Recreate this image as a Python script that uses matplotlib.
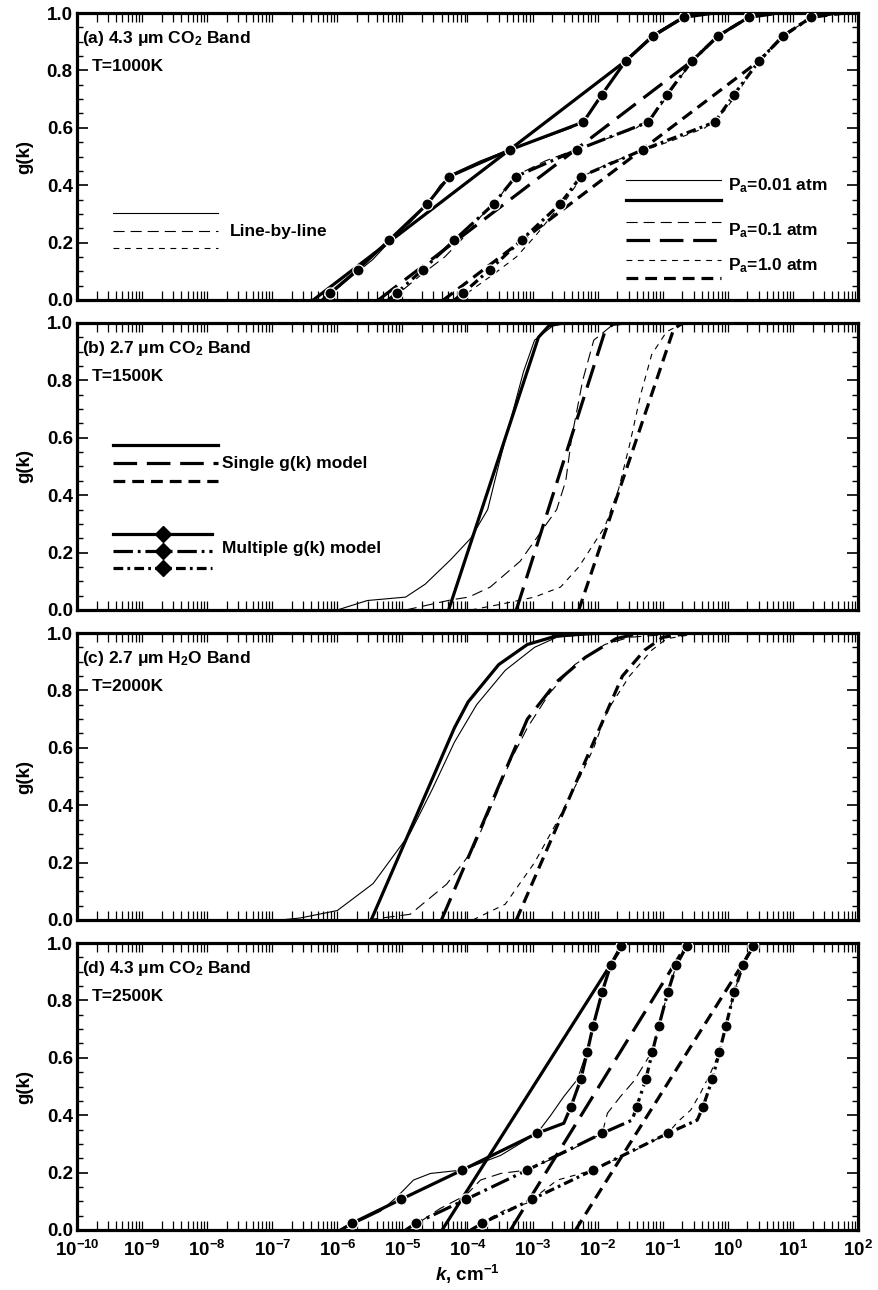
import numpy as np
import matplotlib
matplotlib.use("Agg")
import matplotlib.pyplot as plt
from matplotlib.ticker import FixedLocator, MultipleLocator, FuncFormatter, NullFormatter

plt.rcParams['font.family'] = ['Liberation Sans', 'DejaVu Sans']
plt.rcParams['font.weight'] = 'bold'
plt.rcParams['mathtext.fontset'] = 'custom'
plt.rcParams['mathtext.rm'] = 'Liberation Sans:bold'
plt.rcParams['mathtext.it'] = 'Liberation Sans:italic:bold'
plt.rcParams['mathtext.bf'] = 'Liberation Sans:bold'
plt.rcParams['mathtext.default'] = 'rm'
plt.rcParams['lines.scale_dashes'] = False

# ---------------- data (log10 k, g) ----------------
X_DECADES = list(range(-10, 3))
G_QUAD = [0.024, 0.105, 0.107, 0.209, 0.334, 0.337, 0.43, 0.523, 0.525, 0.62, 0.711, 0.714, 0.83, 0.833, 0.92, 0.923, 0.985, 0.99]

# Panel (a) 4.3 um CO2, 1000 K
A_LBL1_LOGK = [-6.23, -6.06, -5.77, -5.46, -5.15, -4.88, -4.60, -4.42, -4.23, -3.80, -3.34, -2.80, -2.40, -2.14, -1.92, -1.72, -1.52, -1.15, -0.72, -0.30]
A_LBL1_G = [0.0, 0.028, 0.084, 0.14, 0.215, 0.27, 0.338, 0.40, 0.44, 0.485, 0.525, 0.567, 0.60, 0.645, 0.72, 0.785, 0.845, 0.925, 0.983, 1.0]
A_LBL2_LOGK = [-5.20, -5.03, -4.70, -4.35, -4.05, -3.80, -3.55, -3.38, -3.20, -2.80, -2.33, -1.80, -1.40, -1.12, -0.90, -0.70, -0.50, -0.14, 0.28, 0.70]
A_LBL2_G = [0.0, 0.028, 0.09, 0.15, 0.22, 0.29, 0.345, 0.40, 0.44, 0.485, 0.525, 0.567, 0.60, 0.65, 0.72, 0.785, 0.845, 0.925, 0.983, 1.0]
A_LBL3_LOGK = [-4.15, -3.98, -3.60, -3.25, -2.95, -2.72, -2.50, -2.30, -2.15, -1.80, -1.30, -0.80, -0.35, -0.05, 0.15, 0.32, 0.52, 0.86, 1.30, 1.80]
A_LBL3_G = [0.0, 0.028, 0.09, 0.15, 0.225, 0.29, 0.345, 0.41, 0.44, 0.48, 0.52, 0.56, 0.60, 0.66, 0.72, 0.785, 0.845, 0.925, 0.983, 1.0]

A_SGL1_LOGK = [-6.37, -1.57, -1.15, -0.68, -0.20]
A_SGL2_LOGK = [-5.37, -0.55, -0.15, 0.32, 0.80]
A_SGL3_LOGK = [-4.37, 0.48, 0.85, 1.28, 1.80]
A_SGL_G = [0.0, 0.833, 0.92, 0.985, 1.0]

A_MLT1_LOGK = [-6.23, -6.11, -5.69, -5.20, -4.62, -4.28, -3.35, -2.22, -1.94, -1.57, -1.15, -0.68, -0.40]
A_MLT2_LOGK = [-5.22, -5.09, -4.69, -4.20, -3.60, -3.26, -2.32, -1.22, -0.94, -0.55, -0.15, 0.32, 0.60]
A_MLT3_LOGK = [-4.20, -4.07, -3.66, -3.17, -2.58, -2.26, -1.31, -0.20, 0.09, 0.48, 0.85, 1.28, 1.60]
A_MLT_G = [0.0, 0.024, 0.105, 0.209, 0.334, 0.43, 0.523, 0.62, 0.714, 0.833, 0.92, 0.985, 1.0]

# Panel (b) 2.7 um CO2, 1500 K
B_LBL1_LOGK = [-6.00, -5.54, -4.95, -4.65, -4.26, -3.95, -3.69, -3.51, -3.34, -3.14, -2.97, -2.69, -2.42]
B_LBL1_G = [0.0, 0.033, 0.045, 0.09, 0.175, 0.25, 0.35, 0.515, 0.66, 0.83, 0.94, 0.99, 1.0]
B_LBL2_LOGK = [-4.95, -4.26, -3.98, -3.65, -3.19, -2.91, -2.63, -2.49, -2.40, -2.23, -2.06, -1.79, -1.49]
B_LBL2_G = [0.0, 0.035, 0.045, 0.08, 0.17, 0.26, 0.35, 0.45, 0.60, 0.80, 0.94, 0.99, 1.0]
B_LBL3_LOGK = [-3.95, -3.49, -2.97, -2.57, -2.29, -1.89, -1.68, -1.51, -1.34, -1.17, -0.94, -0.72, -0.42]
B_LBL3_G = [0.0, 0.02, 0.045, 0.08, 0.15, 0.29, 0.42, 0.575, 0.75, 0.89, 0.97, 0.995, 1.0]
B_SGL1_LOGK = [-4.29, -2.91, -2.75, -2.57]
B_SGL1_G = [0.0, 0.95, 0.99, 1.0]
B_SGL2_LOGK = [-3.25, -1.89, -1.77, -1.62]
B_SGL2_G = [0.0, 0.97, 0.995, 1.0]
B_SGL3_LOGK = [-2.29, -0.83, -0.69]
B_SGL3_G = [0.0, 0.98, 1.0]

# Panel (c) 2.7 um H2O, 2000 K
C_LBL1_LOGK = [-6.88, -6.57, -6.00, -5.45, -4.88, -4.54, -4.20, -3.86, -3.42, -2.97, -2.63, -1.95]
C_LBL1_G = [0.0, 0.007, 0.033, 0.127, 0.303, 0.456, 0.62, 0.75, 0.87, 0.95, 0.985, 1.0]
C_LBL2_LOGK = [-5.55, -4.88, -4.32, -3.92, -3.65, -3.35, -3.08, -2.74, -2.35, -1.89, -1.51, -0.66]
C_LBL2_G = [0.0, 0.02, 0.125, 0.243, 0.386, 0.55, 0.67, 0.79, 0.89, 0.96, 0.985, 1.0]
C_LBL3_LOGK = [-3.92, -3.42, -2.97, -2.63, -2.29, -2.06, -1.85, -1.51, -1.17, -0.94, -0.42]
C_LBL3_G = [0.0, 0.055, 0.2, 0.34, 0.49, 0.60, 0.73, 0.85, 0.94, 0.98, 1.0]
C_SGL1_LOGK = [-5.48, -4.20, -3.99, -3.52, -3.08, -2.63, -1.95]
C_SGL1_G = [0.0, 0.67, 0.76, 0.89, 0.96, 0.99, 1.0]
C_SGL2_LOGK = [-4.40, -3.08, -2.63, -2.19, -1.72, -1.34]
C_SGL2_G = [0.0, 0.70, 0.83, 0.915, 0.98, 1.0]
C_SGL3_LOGK = [-3.25, -1.89, -1.62, -1.28, -1.00, -0.57]
C_SGL3_G = [0.0, 0.71, 0.85, 0.94, 0.985, 1.0]

# Panel (d) 4.3 um CO2, 2500 K
D_LBL1_LOGK = [-5.95, -5.57, -5.34, -5.08, -4.83, -4.57, -4.08, -3.49, -2.93, -2.72, -2.52, -2.31, -2.17, -2.07, -1.94, -1.80, -1.62]
D_LBL1_G = [0.0, 0.04, 0.065, 0.116, 0.174, 0.197, 0.209, 0.26, 0.337, 0.40, 0.465, 0.525, 0.62, 0.711, 0.83, 0.925, 1.0]
D_LBL2_LOGK = [-4.95, -4.72, -4.42, -4.02, -3.80, -3.49, -3.08, -2.49, -1.93, -1.85, -1.65, -1.44, -1.17, -1.06, -0.92, -0.79, -0.60]
D_LBL2_G = [0.0, 0.03, 0.075, 0.122, 0.174, 0.197, 0.209, 0.27, 0.337, 0.407, 0.465, 0.52, 0.62, 0.711, 0.83, 0.923, 1.0]
D_LBL3_LOGK = [-3.95, -3.75, -3.42, -3.08, -2.62, -2.16, -1.49, -0.92, -0.77, -0.57, -0.42, -0.26, -0.13, -0.03, 0.10, 0.23, 0.43]
D_LBL3_G = [0.0, 0.03, 0.07, 0.094, 0.174, 0.203, 0.27, 0.337, 0.377, 0.418, 0.477, 0.55, 0.62, 0.711, 0.83, 0.923, 1.0]
D_SGL1_LOGK = [-4.39, -1.59]
D_SGL2_LOGK = [-3.34, -0.62]
D_SGL3_LOGK = [-2.34, 0.43]
D_SGL_G = [0.0, 1.0]
D_MLT1_LOGK = [-5.95, -5.77, -5.02, -4.08, -2.93, -2.52, -2.41, -2.26, -2.16, -2.07, -1.93, -1.80, -1.64, -1.57]
D_MLT1_G = [0.0, 0.024, 0.107, 0.209, 0.337, 0.372, 0.43, 0.525, 0.62, 0.711, 0.83, 0.923, 0.99, 1.0]
D_MLT2_LOGK = [-4.95, -4.79, -4.02, -3.08, -1.93, -1.47, -1.40, -1.26, -1.16, -1.06, -0.92, -0.79, -0.63, -0.57]
D_MLT3_LOGK = [-3.95, -3.77, -3.01, -2.07, -0.92, -0.47, -0.38, -0.24, -0.13, -0.03, 0.10, 0.23, 0.38, 0.45]
D_MLT23_G = [0.0, 0.024, 0.107, 0.209, 0.337, 0.383, 0.43, 0.525, 0.62, 0.711, 0.83, 0.923, 0.99, 1.0]

PANEL_TITLES = ['(a) 4.3 μm CO$_2$ Band', '(b) 2.7 μm CO$_2$ Band', '(c) 2.7 μm H$_2$O Band', '(d) 4.3 μm CO$_2$ Band']
PANEL_TEMPS = ['T=1000K', 'T=1500K', 'T=2000K', 'T=2500K']
PRESSURE_LABELS = ['P$_a$=0.01 atm', 'P$_a$=0.1 atm', 'P$_a$=1.0 atm']

# ---------------- styles ----------------
LW_THIN = 0.8
LW_THICK = 2.3
LBL_DASH = [None, (0, (8, 4.3)), (0, (4.2, 4))]
SGL_DASH = [None, (0, (17, 7)), (0, (8.5, 5))]
MLT_DASH = [None, (0, (14, 3.5, 2, 3.5)), (0, (7, 3, 2, 3))]


def ls(d):
    return '-' if d is None else d


def draw_lbl(ax, logk, g, i):
    ax.plot(10 ** np.asarray(logk), g, color='k', lw=LW_THIN, ls=ls(LBL_DASH[i]), zorder=4)


def draw_sgl(ax, logk, g, i):
    ax.plot(10 ** np.asarray(logk), g, color='k', lw=LW_THICK, ls=ls(SGL_DASH[i]), zorder=3)


def draw_mlt(ax, logk, g, i):
    g = np.asarray(g)
    idx = [j for j, v in enumerate(g) if v in G_QUAD]
    ax.plot(10 ** np.asarray(logk), g, color='k', lw=LW_THICK, ls=ls(MLT_DASH[i]), zorder=3)
    ax.plot(10 ** np.asarray(logk)[idx], g[idx], ls='none', marker='o', ms=8,
            mfc='k', mec='white', mew=0.9, zorder=5)


W, H = 879, 1290
fig = plt.figure(figsize=(W / 100, H / 100), dpi=100)
tops = [13, 323, 633, 943]
axes = []
for t in tops:
    ax = fig.add_axes([77 / W, 1 - (t + 287) / H, (858 - 77) / W, 287 / H])
    axes.append(ax)

major_x = [10.0 ** e for e in X_DECADES]
minor_x = [m * 10.0 ** e for e in X_DECADES[:-1] for m in range(2, 10)]

for n, ax in enumerate(axes):
    ax.set_xscale('log')
    ax.set_xlim(1e-10, 1e2)
    ax.set_ylim(0, 1)
    for s in ax.spines.values():
        s.set_linewidth(2.3)
    ax.xaxis.set_major_locator(FixedLocator(major_x))
    ax.xaxis.set_minor_locator(FixedLocator(minor_x))
    ax.xaxis.set_minor_formatter(NullFormatter())
    ax.yaxis.set_major_locator(MultipleLocator(0.2))
    ax.yaxis.set_minor_locator(MultipleLocator(0.05))
    ax.yaxis.set_major_formatter(FuncFormatter(lambda v, p: '%.1f' % v))
    ax.tick_params(axis='x', which='both', direction='in', top=True, bottom=True, length=6.5, width=0.9)
    ax.tick_params(axis='y', which='major', direction='in', left=True, right=True, length=8, width=1.2, labelsize=13.5, pad=3)
    ax.tick_params(axis='y', which='minor', direction='in', left=True, right=True, length=4.5, width=1.0)
    if n < 3:
        ax.xaxis.set_major_formatter(NullFormatter())
    else:
        ax.xaxis.set_major_formatter(FuncFormatter(lambda v, p: r'$10^{%d}$' % int(round(np.log10(v)))))
        ax.tick_params(axis='x', which='major', labelsize=13.5, pad=7)
    ax.set_ylabel('g(k)', fontsize=13.5, fontweight='bold')
    ax.yaxis.set_label_coords(-0.056, 0.5)
    ax.text(0.006, 0.91, PANEL_TITLES[n], transform=ax.transAxes, fontsize=12.5, fontweight='bold', va='center', ha='left')
    ax.text(0.019, 0.815, PANEL_TEMPS[n], transform=ax.transAxes, fontsize=12.5, fontweight='bold', va='center', ha='left')

axA, axB, axC, axD = axes

# panel (a)
for i, (lk, g) in enumerate([(A_LBL1_LOGK, A_LBL1_G), (A_LBL2_LOGK, A_LBL2_G), (A_LBL3_LOGK, A_LBL3_G)]):
    draw_lbl(axA, lk, g, i)
for i, lk in enumerate([A_SGL1_LOGK, A_SGL2_LOGK, A_SGL3_LOGK]):
    draw_sgl(axA, lk, A_SGL_G, i)
for i, lk in enumerate([A_MLT1_LOGK, A_MLT2_LOGK, A_MLT3_LOGK]):
    draw_mlt(axA, lk, A_MLT_G, i)

# panel (b)
for i, (lk, g) in enumerate([(B_LBL1_LOGK, B_LBL1_G), (B_LBL2_LOGK, B_LBL2_G), (B_LBL3_LOGK, B_LBL3_G)]):
    draw_lbl(axB, lk, g, i)
for i, (lk, g) in enumerate([(B_SGL1_LOGK, B_SGL1_G), (B_SGL2_LOGK, B_SGL2_G), (B_SGL3_LOGK, B_SGL3_G)]):
    draw_sgl(axB, lk, g, i)

# panel (c)
for i, (lk, g) in enumerate([(C_LBL1_LOGK, C_LBL1_G), (C_LBL2_LOGK, C_LBL2_G), (C_LBL3_LOGK, C_LBL3_G)]):
    draw_lbl(axC, lk, g, i)
for i, (lk, g) in enumerate([(C_SGL1_LOGK, C_SGL1_G), (C_SGL2_LOGK, C_SGL2_G), (C_SGL3_LOGK, C_SGL3_G)]):
    draw_sgl(axC, lk, g, i)

# panel (d)
for i, (lk, g) in enumerate([(D_LBL1_LOGK, D_LBL1_G), (D_LBL2_LOGK, D_LBL2_G), (D_LBL3_LOGK, D_LBL3_G)]):
    draw_lbl(axD, lk, g, i)
for i, lk in enumerate([D_SGL1_LOGK, D_SGL2_LOGK, D_SGL3_LOGK]):
    draw_sgl(axD, lk, D_SGL_G, i)
for i, (lk, g) in enumerate([(D_MLT1_LOGK, D_MLT1_G), (D_MLT2_LOGK, D_MLT23_G), (D_MLT3_LOGK, D_MLT23_G)]):
    draw_mlt(axD, lk, g, i)

axD.set_xlabel(r'$\mathit{k}$, cm$^{-1}$', fontsize=13.5, fontweight='bold')
axD.xaxis.set_label_coords(0.5, -0.115)

# ---------------- legends (drawn inside axes) ----------------
tr = axA.transAxes
for i, y in enumerate([0.303, 0.24, 0.181]):
    axA.plot([0.046, 0.1805], [y, y], transform=tr, color='k', lw=LW_THIN, ls=ls(LBL_DASH[i]))
axA.text(0.196, 0.24, 'Line-by-line', transform=tr, fontsize=12.5, fontweight='bold', va='center')

for i, (yt, y1, y2) in enumerate([(0.397, 0.418, 0.35), (0.242, 0.273, 0.208), (0.118, 0.139, 0.075)]):
    axA.plot([0.703, 0.825], [y1, y1], transform=tr, color='k', lw=LW_THIN, ls=ls(LBL_DASH[i]))
    axA.plot([0.703, 0.825], [y2, y2], transform=tr, color='k', lw=LW_THICK, ls=ls(SGL_DASH[i]))
    axA.text(0.833, yt, PRESSURE_LABELS[i], transform=tr, fontsize=12.5, fontweight='bold', va='center')

trb = axB.transAxes
for i, y in enumerate([0.575, 0.512, 0.449]):
    axB.plot([0.046, 0.1805], [y, y], transform=trb, color='k', lw=LW_THICK, ls=ls(SGL_DASH[i]))
axB.text(0.186, 0.512, 'Single g(k) model', transform=trb, fontsize=12.5, fontweight='bold', va='center')
for i, y in enumerate([0.265, 0.206, 0.146]):
    axB.plot([0.046, 0.173], [y, y], transform=trb, color='k', lw=LW_THICK, ls=ls(MLT_DASH[i]))
    axB.plot([0.110], [y], transform=trb, marker='D', ms=8, color='k', ls='none')
axB.text(0.186, 0.213, 'Multiple g(k) model', transform=trb, fontsize=12.5, fontweight='bold', va='center')

fig.savefig('out.png', dpi=100)
